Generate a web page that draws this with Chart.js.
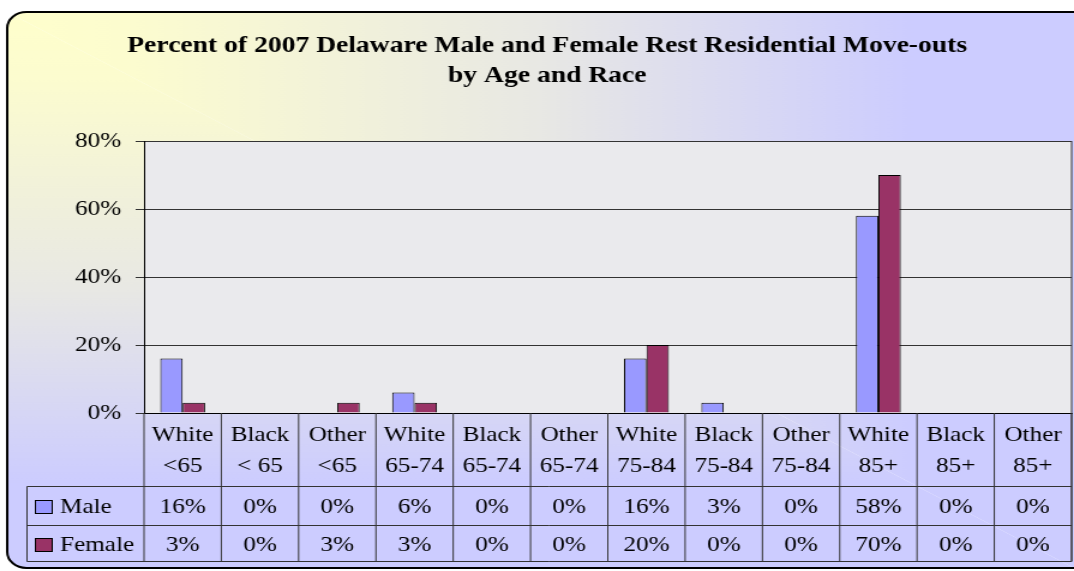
<!DOCTYPE html>
<html>
<head>
<meta charset="utf-8">
<script src="https://cdn.jsdelivr.net/npm/chart.js@4"></script>
<style>
  body { margin: 0; background: #fff; overflow: hidden; }
  /* the reference is stretched sideways, so draw narrower and widen */
  #wrap { width: 895px; height: 571px; transform: scaleX(1.2); transform-origin: 0 0; }
</style>
</head>
<body>
<div id="wrap"><canvas id="chart" width="895" height="571"></canvas></div>
<script>
/* Data */
var categories = [
    ['White', '<65'], ['Black', '< 65'], ['Other', '<65'],
    ['White', '65-74'], ['Black', '65-74'], ['Other', '65-74'],
    ['White', '75-84'], ['Black', '75-84'], ['Other', '75-84'],
    ['White', '85+'], ['Black', '85+'], ['Other', '85+']
];
var seriesNames = ['Male', 'Female'];
var maleValues = [16, 0, 0, 6, 0, 0, 16, 3, 0, 58, 0, 0];
var femaleValues = [3, 0, 3, 3, 0, 0, 20, 0, 0, 70, 0, 0];
var yTickValues = [0, 20, 40, 60, 80];

/* Colors */
var male_color = '#9999FF';
var female_color = '#993366';
var line_color = '#333333';
var serif = '"Liberation Serif", "Times New Roman", serif';

/* Gradient stops shared by both halves of the corner gradient */
function addStops(g) {
    g.addColorStop(0, '#FFFFCC');
    g.addColorStop(0.12, '#FCFCCF');
    g.addColorStop(0.5, '#E8E8E4');
    g.addColorStop(0.85, '#CCCCFF');
    g.addColorStop(1, '#CCCCFF');
}

/* Frame, plot background, title and data table */
var decorPlugin = {
    id: 'decor',
    beforeDraw: function(chart) {
        var ctx = chart.ctx;
        var area = chart.chartArea;
        var x0 = 6, y0 = 12, x1 = 895, y1 = 568;
        ctx.save();
        ctx.fillStyle = '#fff';
        ctx.fillRect(0, 0, chart.width, chart.height);

        // rounded frame, gradient spreading out from the top left corner
        ctx.beginPath();
        ctx.roundRect(x0, y0, chart.width + 10, y1 - y0, 16);
        ctx.save();
        ctx.clip();
        var gh = ctx.createLinearGradient(x0, 0, x1, 0);
        addStops(gh);
        ctx.fillStyle = gh;
        ctx.beginPath();
        ctx.moveTo(x0, y0);
        ctx.lineTo(x1 + 20, y0);
        ctx.lineTo(x1 + 20, y1);
        ctx.lineTo(x1, y1);
        ctx.closePath();
        ctx.fill();
        var gv = ctx.createLinearGradient(0, y0, 0, y1);
        addStops(gv);
        ctx.fillStyle = gv;
        ctx.beginPath();
        ctx.moveTo(x0, y0);
        ctx.lineTo(x1, y1);
        ctx.lineTo(x0, y1);
        ctx.closePath();
        ctx.fill();
        ctx.restore();

        ctx.beginPath();
        ctx.roundRect(x0, y0, chart.width + 10, y1 - y0, 16);
        ctx.lineWidth = 2;
        ctx.strokeStyle = '#000';
        ctx.stroke();

        // plot area
        ctx.fillStyle = '#EAEAED';
        ctx.fillRect(area.left, area.top, area.right - area.left, area.bottom - area.top);

        // title
        ctx.fillStyle = '#000';
        ctx.font = 'bold 23px ' + serif;
        ctx.textAlign = 'center';
        ctx.textBaseline = 'alphabetic';
        ctx.fillText('Percent of 2007 Delaware Male and Female Rest Residential Move-outs', 456, 52);
        ctx.fillText('by Age and Race', 456, 82);
        ctx.restore();
    },
    afterDraw: function(chart) {
        var ctx = chart.ctx;
        var area = chart.chartArea;
        var xScale = chart.scales.x;
        var catW = (area.right - area.left) / categories.length;
        var rowTop = 486.5, rowMid = 525.5, rowBottom = 561.5, tableLeft = 22.5;
        ctx.save();
        ctx.strokeStyle = line_color;
        ctx.lineWidth = 1;

        // right border of plot
        ctx.beginPath();
        ctx.moveTo(area.right, area.top);
        ctx.lineTo(area.right, rowBottom);
        ctx.stroke();

        // column lines
        for (var i = 0; i <= categories.length; i++) {
            var x = area.left + i * catW;
            ctx.beginPath();
            ctx.moveTo(x, area.bottom);
            ctx.lineTo(x, rowBottom);
            ctx.stroke();
        }
        // row lines
        [rowTop, rowMid, rowBottom].forEach(function(y) {
            ctx.beginPath();
            ctx.moveTo(tableLeft, y);
            ctx.lineTo(area.right, y);
            ctx.stroke();
        });
        ctx.beginPath();
        ctx.moveTo(tableLeft, rowTop);
        ctx.lineTo(tableLeft, rowBottom);
        ctx.stroke();

        // header labels and values
        ctx.fillStyle = '#000';
        ctx.font = '21px ' + serif;
        ctx.textAlign = 'center';
        ctx.textBaseline = 'middle';
        categories.forEach(function(label, i) {
            var cx = xScale.getPixelForValue(i);
            ctx.fillText(label[0], cx, 435);
            ctx.fillText(label[1], cx, 466);
            ctx.fillText(maleValues[i] + '%', cx, 507);
            ctx.fillText(femaleValues[i] + '%', cx, 545);
        });

        // legend keys
        var keys = [[male_color, 507], [female_color, 545]];
        ctx.textAlign = 'left';
        keys.forEach(function(k, j) {
            ctx.fillStyle = k[0];
            ctx.fillRect(29.5, k[1] - 6.5, 14, 13);
            ctx.strokeStyle = '#000';
            ctx.strokeRect(29.5, k[1] - 6.5, 14, 13);
            ctx.fillStyle = '#000';
            ctx.fillText(seriesNames[j], 50, k[1]);
        });
        ctx.restore();
    }
};

var ctx = document.getElementById('chart');
var chart = new Chart(ctx, {
    type: 'bar',
    data: {
        labels: categories,
        datasets: [{
            label: seriesNames[0],
            data: maleValues,
            backgroundColor: male_color
        }, {
            label: seriesNames[1],
            data: femaleValues,
            backgroundColor: female_color
        }]
    },
    options: {
        responsive: false,
        animation: false,
        layout: {
            padding: { top: 141, right: 2, bottom: 158, left: 0 }
        },
        datasets: {
            bar: {
                categoryPercentage: 0.58,
                barPercentage: 1,
                borderColor: '#000',
                borderWidth: function(c) { return c.raw > 0 ? 1 : 0; },
                borderSkipped: 'bottom'
            }
        },
        plugins: {
            legend: { display: false },
            title: { display: false },
            tooltip: { enabled: false }
        },
        scales: {
            x: {
                grid: { display: false, drawTicks: false },
                border: { display: true, color: '#000', width: 1 },
                ticks: { display: false }
            },
            y: {
                min: 0,
                max: 80,
                afterFit: function(scale) { scale.width = 120; },
                afterBuildTicks: function(scale) {
                    scale.ticks = yTickValues.map(function(v) { return { value: v }; });
                },
                grid: { color: line_color, lineWidth: 1, tickLength: 7 },
                border: { display: true, color: '#000', width: 1 },
                ticks: {
                    padding: 12,
                    color: '#000',
                    font: { family: serif, size: 21 },
                    callback: function(v) { return v + '%'; }
                }
            }
        }
    },
    plugins: [decorPlugin]
});
</script>
</body>
</html>
